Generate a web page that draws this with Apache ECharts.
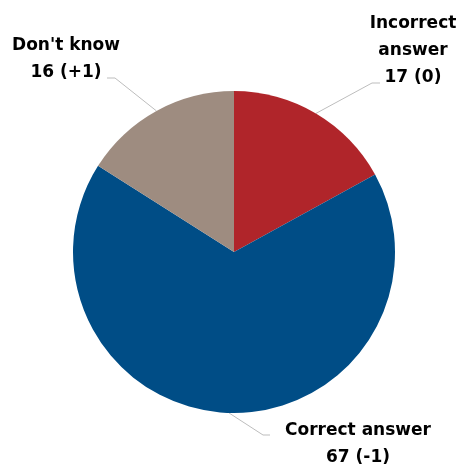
<!DOCTYPE html>
<html><head><meta charset="utf-8">
<script src="https://cdn.jsdelivr.net/npm/echarts@6/dist/echarts.min.js"></script>
<style>html,body{margin:0;padding:0;background:#fff}#c{width:459px;height:466px}</style>
</head><body><div id="c"></div>
<script>
var categories = ['Incorrect\nanswer', 'Correct answer', "Don't know"];
var values = [17, 67, 16];
var changes = ['0', '-1', '+1'];
var colors = ['#B0252A', '#004D86', '#9E8C80'];

// label anchor (block centre) and leader line bend/end for each slice
var labelSpots = [
  {x: 413, y: 51, bend: [372, 83], end: [380, 83]},
  {x: 358, y: 444, bend: [263, 435], end: [270, 435]},
  {x: 66, y: 59, bend: [115, 78], end: [107, 78]}
];

var chart = echarts.init(document.getElementById('c'));
chart.setOption({
  animation: false,
  series: [{
    type: 'pie',
    center: [234, 252],
    radius: 161,
    startAngle: 90,
    clockwise: true,
    data: categories.map(function (n, i) {
      return {name: n, value: values[i], itemStyle: {color: colors[i]}};
    }),
    label: {
      show: true,
      position: 'outside',
      fontFamily: 'DejaVu Sans',
      fontWeight: 'bold',
      fontSize: 17,
      lineHeight: 27,
      color: '#000',
      align: 'center',
      formatter: function (p) {
        return p.name + '\n' + p.value + ' (' + changes[p.dataIndex] + ')';
      }
    },
    labelLine: {show: true, length: 20, length2: 10, lineStyle: {color: '#BDBDBD', width: 1}},
    labelLayout: function (p) {
      var s = labelSpots[p.dataIndex];
      var start = p.labelLinePoints ? p.labelLinePoints[0] : s.bend;
      return {
        x: s.x, y: s.y, align: 'center', verticalAlign: 'middle',
        labelLinePoints: [start, s.bend, s.end]
      };
    }
  }]
});
</script></body></html>
